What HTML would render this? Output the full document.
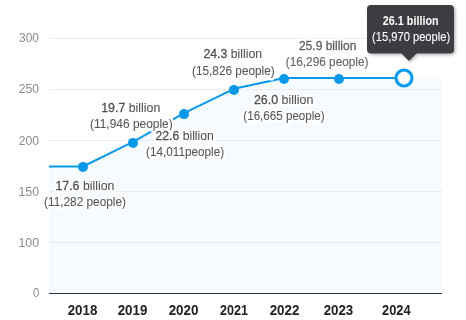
<!DOCTYPE html>
<html><head><meta charset="utf-8">
<style>
html,body{margin:0;padding:0;background:#fff;width:466px;height:320px;overflow:hidden}
svg{display:block;will-change:transform}
text{font-family:"Liberation Sans",sans-serif}
.yl{font-size:12px;fill:#8a8a8a;text-anchor:start}
.xl{font-size:14px;font-weight:700;fill:#222;text-anchor:start}
.dl{font-size:12.5px;text-anchor:start}
.halo{fill:#fff;stroke:#fff;stroke-width:5;stroke-linejoin:round}
.dl.ink{fill:#505050;stroke:#505050;stroke-width:0.05}
.dl.ink .n{stroke-width:0.3}
.dl2.ink{fill:#5a5a5a;stroke:#5a5a5a;stroke-width:0.1}
.dl2{font-size:12.3px;text-anchor:start}
.tt{font-size:12px;fill:#fff;text-anchor:start}
.tt1{stroke:#fff;stroke-width:0.5}
</style></head>
<body>
<svg width="466" height="320" viewBox="0 0 466 320">
<g>
<polygon points="49,166.5 83,166.5 133,141.8 184,113.2 234,88.8 284,77.9 339,77.9 404,77.9 442,77.9 442,293 49,293" fill="#f5fbff"/>
<g stroke="#ebebeb" stroke-width="1">
<line x1="49" y1="38.5" x2="442" y2="38.5"/>
<line x1="49" y1="89.5" x2="442" y2="89.5"/>
<line x1="49" y1="140.5" x2="442" y2="140.5"/>
<line x1="49" y1="191.5" x2="442" y2="191.5"/>
<line x1="49" y1="242.5" x2="442" y2="242.5"/>
</g>
<line x1="49" y1="293.5" x2="442" y2="293.5" stroke="#333" stroke-width="1.2"/>
</g>
<text class="yl" x="19.04" y="41.80" textLength="19.97" lengthAdjust="spacingAndGlyphs">300</text>
<text class="yl" x="18.69" y="92.80" textLength="20.36" lengthAdjust="spacingAndGlyphs">250</text>
<text class="yl" x="18.86" y="144.65" textLength="20.21" lengthAdjust="spacingAndGlyphs">200</text>
<text class="yl" x="18.51" y="195.70" textLength="20.63" lengthAdjust="spacingAndGlyphs">150</text>
<text class="yl" x="18.51" y="246.60" textLength="20.63" lengthAdjust="spacingAndGlyphs">100</text>
<text class="yl" x="33.02" y="296.94" textLength="6.33" lengthAdjust="spacingAndGlyphs">0</text>
<text class="xl" x="67.64" y="314.60" textLength="29.68" lengthAdjust="spacingAndGlyphs">2018</text>
<text class="xl" x="117.64" y="314.60" textLength="29.77" lengthAdjust="spacingAndGlyphs">2019</text>
<text class="xl" x="168.64" y="314.60" textLength="29.82" lengthAdjust="spacingAndGlyphs">2020</text>
<text class="xl" x="219.94" y="314.60" textLength="27.93" lengthAdjust="spacingAndGlyphs">2021</text>
<text class="xl" x="269.64" y="314.60" textLength="29.81" lengthAdjust="spacingAndGlyphs">2022</text>
<text class="xl" x="323.64" y="314.60" textLength="29.62" lengthAdjust="spacingAndGlyphs">2023</text>
<text class="xl" x="382.06" y="314.60" textLength="28.60" lengthAdjust="spacingAndGlyphs">2024</text>
<g>
<polyline points="49,166.5 83,166.5 133,141.8 184,113.2 234,88.8 284,77.9 339,77.9 404,77.9" fill="none" stroke="#0a99e8" stroke-width="2" stroke-linejoin="round"/>
<g fill="#0a99e8">
<circle cx="83" cy="166.9" r="5"/>
<circle cx="133" cy="142.9" r="5"/>
<circle cx="184" cy="114.1" r="5"/>
<circle cx="234" cy="89.9" r="5"/>
<circle cx="284" cy="79" r="5"/>
<circle cx="339" cy="79" r="5"/>
</g>
<circle cx="404" cy="78" r="8" fill="#fff" stroke="#0a9ceb" stroke-width="3.2"/>
</g>
<text class="dl halo" x="55.43" y="190.00" textLength="59.04" lengthAdjust="spacingAndGlyphs">17.6 billion</text>
<text class="dl2 halo" x="44.03" y="206.00" textLength="81.99" lengthAdjust="spacingAndGlyphs">(11,282 people)</text>
<text class="dl ink" x="55.43" y="190.00" textLength="59.04" lengthAdjust="spacingAndGlyphs"><tspan class="n">17.6</tspan> billion</text>
<text class="dl2 ink" x="44.03" y="206.00" textLength="81.99" lengthAdjust="spacingAndGlyphs">(11,282 people)</text>
<text class="dl halo" x="101.24" y="112.00" textLength="59.01" lengthAdjust="spacingAndGlyphs">19.7 billion</text>
<text class="dl2 halo" x="89.98" y="128.00" textLength="82.74" lengthAdjust="spacingAndGlyphs">(11,946 people)</text>
<text class="dl ink" x="101.24" y="112.00" textLength="59.01" lengthAdjust="spacingAndGlyphs"><tspan class="n">19.7</tspan> billion</text>
<text class="dl2 ink" x="89.98" y="128.00" textLength="82.74" lengthAdjust="spacingAndGlyphs">(11,946 people)</text>
<text class="dl halo" x="155.49" y="140.00" textLength="58.38" lengthAdjust="spacingAndGlyphs">22.6 billion</text>
<text class="dl2 halo" x="146.00" y="156.00" textLength="78.07" lengthAdjust="spacingAndGlyphs">(14,011people)</text>
<text class="dl ink" x="155.49" y="140.00" textLength="58.38" lengthAdjust="spacingAndGlyphs"><tspan class="n">22.6</tspan> billion</text>
<text class="dl2 ink" x="146.00" y="156.00" textLength="78.07" lengthAdjust="spacingAndGlyphs">(14,011people)</text>
<text class="dl halo" x="203.48" y="58.00" textLength="58.59" lengthAdjust="spacingAndGlyphs">24.3 billion</text>
<text class="dl2 halo" x="191.99" y="75.00" textLength="82.74" lengthAdjust="spacingAndGlyphs">(15,826 people)</text>
<text class="dl ink" x="203.48" y="58.00" textLength="58.59" lengthAdjust="spacingAndGlyphs"><tspan class="n">24.3</tspan> billion</text>
<text class="dl2 ink" x="191.99" y="75.00" textLength="82.74" lengthAdjust="spacingAndGlyphs">(15,826 people)</text>
<text class="dl halo" x="253.89" y="104.00" textLength="59.45" lengthAdjust="spacingAndGlyphs">26.0 billion</text>
<text class="dl2 halo" x="243.34" y="120.00" textLength="81.34" lengthAdjust="spacingAndGlyphs">(16,665 people)</text>
<text class="dl ink" x="253.89" y="104.00" textLength="59.45" lengthAdjust="spacingAndGlyphs"><tspan class="n">26.0</tspan> billion</text>
<text class="dl2 ink" x="243.34" y="120.00" textLength="81.34" lengthAdjust="spacingAndGlyphs">(16,665 people)</text>
<text class="dl halo" x="298.93" y="50.00" textLength="57.49" lengthAdjust="spacingAndGlyphs">25.9 billion</text>
<text class="dl2 halo" x="285.81" y="66.00" textLength="82.64" lengthAdjust="spacingAndGlyphs">(16,296 people)</text>
<text class="dl ink" x="298.93" y="50.00" textLength="57.49" lengthAdjust="spacingAndGlyphs" style="fill:#5e5e5e;stroke:#5e5e5e;stroke-width:0.3"><tspan class="n">25.9</tspan> billion</text>
<text class="dl2 ink" x="285.81" y="66.00" textLength="82.64" lengthAdjust="spacingAndGlyphs" style="fill:#686868;stroke:#686868;stroke-width:0.15">(16,296 people)</text>
<g>
<defs><filter id="sh" x="-20%" y="-20%" width="140%" height="150%"><feDropShadow dx="1.5" dy="1.5" stdDeviation="1.5" flood-color="#000" flood-opacity="0.28"/></filter></defs>
<g filter="url(#sh)"><rect x="367" y="5" width="87" height="48.5" rx="4" fill="#3a3d42"/>
<polygon points="401,53 417,53 409,61" fill="#3a3d42"/></g>
<text class="tt" x="382.84" y="25.00" textLength="55.73" lengthAdjust="spacingAndGlyphs" style="fill:#fff;stroke:#fff;stroke-width:0.0;font-size:13px" font-weight="700">26.1 billion</text>
<text class="tt" x="372.03" y="41.00" textLength="78.11" lengthAdjust="spacingAndGlyphs" style="fill:#fff;stroke:#fff;stroke-width:0.1;font-size:13px">(15,970 people)</text>
</g>
</svg>
</body></html>
